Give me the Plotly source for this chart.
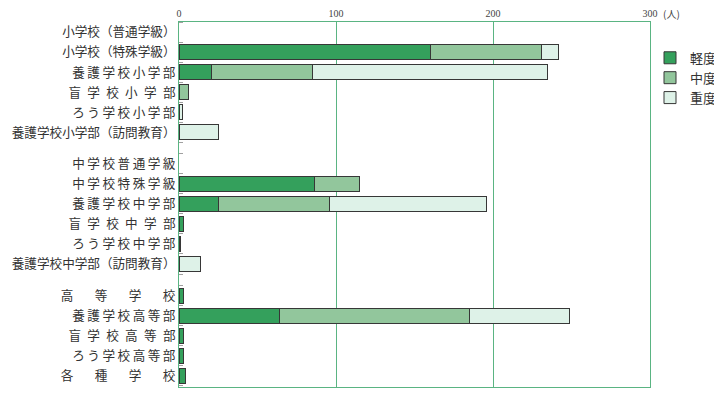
import plotly.graph_objects as go

# ---- data ----
groups = [
    ["小学校（普通学級）", "小学校（特殊学級）", "養護学校小学部", "盲学校小学部", "ろう学校小学部", "養護学校小学部（訪問教育）"],
    ["中学校普通学級", "中学校特殊学級", "養護学校中学部", "盲学校中学部", "ろう学校中学部", "養護学校中学部（訪問教育）"],
    ["高等学校", "養護学校高等部", "盲学校高等部", "ろう学校高等部", "各種学校"],
]
series_names = ["軽度", "中度", "重度"]
keido = [0, 160, 21, 0, 0, 0,   0, 86, 25, 3, 1, 0,   3, 64, 3, 3, 4]
chudo = [0, 71, 64, 6, 0, 0,    0, 29, 71, 0, 0, 0,   0, 121, 0, 0, 0]
judo  = [0, 11, 150, 0, 2, 25,  0, 0, 100, 0, 0, 14,  0, 64, 0, 0, 0]
x_ticks = [0, 100, 200, 300]
x_tick_labels = ["0", "100", "200", "300"]
unit_label = "(人)"

# ---- layout helpers ----
def spread(label):
    # emulate distributed (justified) Japanese labels
    if "（" in label:
        return label
    n = len(label)
    if n >= 7:
        sep = "\u2009"
    elif n == 6:
        sep = "\u2002"
    else:
        sep = "\u2003\u2002\u2009"
    return sep.join(label)

labels, positions = [], []
pos = 0.0
gap = 0.58
for gi, g in enumerate(groups):
    for lab in g:
        labels.append(spread(lab))
        positions.append(pos)
        pos += 1
    pos += gap

minor_vals = sorted(set([round(p - 0.5, 3) for p in positions] + [round(p + 0.5, 3) for p in positions]))

colors = ["rgb(52,160,92)", "rgb(146,198,156)", "rgb(222,242,232)"]
series = [keido, chudo, judo]
grid_green = "rgb(90,180,130)"

fig = go.Figure()
for name, vals, col in zip(series_names, series, colors):
    fig.add_trace(go.Bar(
        name=name,
        y=positions,
        x=[v if v else None for v in vals],
        orientation="h",
        width=0.74,
        marker=dict(color=col, line=dict(color="rgb(55,55,55)", width=1)),
    ))

# page body has an 8px default margin, so the figure is sized to fit inside the window
fig.update_layout(
    width=714, height=387,
    margin=dict(l=171, r=66, t=14, b=8),
    barmode="stack",
    plot_bgcolor="white", paper_bgcolor="white",
    font=dict(family="Noto Sans CJK JP", size=13, color="#333"),
    showlegend=True,
    legend=dict(xref="container", yref="container", x=1.0, y=0.91,
                xanchor="right", yanchor="top",
                font=dict(size=13, color="#333"), tracegroupgap=0,
                traceorder="normal", bgcolor="rgba(0,0,0,0)"),
    xaxis=dict(
        side="top", range=[0, 300], tickvals=x_ticks, ticktext=x_tick_labels,
        tickfont=dict(size=10, color="#444", family="Liberation Serif"),
        showgrid=True, gridcolor=grid_green, gridwidth=1,
        showline=True, linecolor=grid_green, linewidth=1, mirror=True,
        ticks="", zeroline=False, fixedrange=True, automargin=False,
    ),
    yaxis=dict(
        range=[positions[-1] + 0.56, -0.5],
        tickvals=positions, ticktext=labels,
        tickfont=dict(size=12.6, color="#333"),
        showgrid=False, zeroline=False, automargin=False,
        showline=True, linecolor=grid_green, linewidth=1, mirror=True,
        ticks="",
        minor=dict(tickmode="array", tickvals=minor_vals, ticks="inside", ticklen=4,
                   tickcolor="rgb(160,160,160)", tickwidth=1, showgrid=False),
    ),
    annotations=[dict(
        x=300, y=1, xref="x", yref="paper", text=unit_label,
        showarrow=False, xanchor="left", yanchor="middle", xshift=11, yshift=9,
        font=dict(size=10, color="#444", family="Noto Sans CJK JP"),
    )],
)

fig.write_html("out.html")
